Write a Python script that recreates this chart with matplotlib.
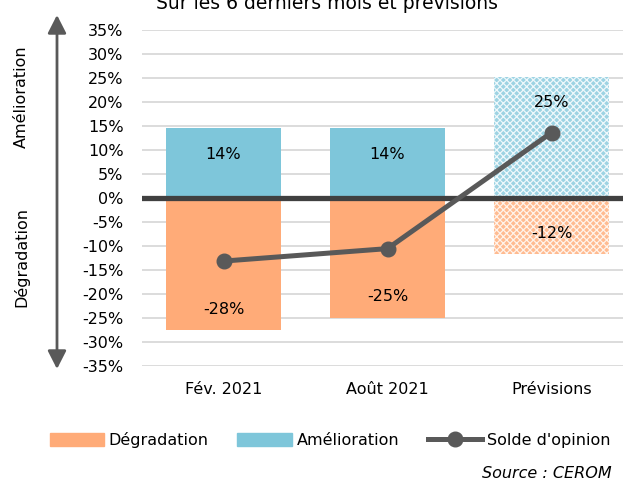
import matplotlib
matplotlib.use("Agg")
import matplotlib.pyplot as plt
from matplotlib.patches import Patch
from matplotlib.lines import Line2D

categories = ["Fév. 2021", "Août 2021", "Prévisions"]
amelioration = [14.6, 14.6, 25.3]
degradation = [-27.6, -25.0, -11.7]
solde = [-13.2, -10.6, 13.6]
amel_labels = ["14%", "14%", "25%"]
degr_labels = ["-28%", "-25%", "-12%"]
yticks = list(range(-35, 40, 5))

BLUE = "#7ec6da"
ORANGE = "#ffab78"
LINE = "#595959"

plt.rcParams['font.family'] = ['DejaVu Sans']
plt.rcParams['hatch.linewidth'] = 0.9

W, H = 623, 482
fig = plt.figure(figsize=(W / 100, H / 100), dpi=100)
left_px, right_px = 141.5, 623
top_px, bot_px = 30, 365.6
ax = fig.add_axes([left_px / W, 1 - bot_px / H, (right_px - left_px) / W, (bot_px - top_px) / H])

x = list(range(len(categories)))
bw = 0.70
for i in x:
    hatched = categories[i] == "Prévisions"
    if hatched:
        ax.bar(i, amelioration[i], width=bw, color="#9dd3e3", edgecolor="#eef8fb",
               hatch="xxxxx", linewidth=0, zorder=2)
        ax.bar(i, degradation[i], width=bw, color="#ffbb91", edgecolor="#fff3ea",
               hatch="xxxxx", linewidth=0, zorder=2)
    else:
        ax.bar(i, amelioration[i], width=bw, color=BLUE, linewidth=0, zorder=2)
        ax.bar(i, degradation[i], width=bw, color=ORANGE, linewidth=0, zorder=2)
    ax.annotate(amel_labels[i], (i, amelioration[i]), xytext=(0, -19), textcoords="offset points",
                ha="center", va="center", fontsize=11.5, color="black", zorder=5)
    ax.annotate(degr_labels[i], (i, degradation[i]), xytext=(0, 15), textcoords="offset points",
                ha="center", va="center", fontsize=11.5, color="black", zorder=5)

ax.axhline(0, color="#404040", lw=3.8, zorder=3)
ax.plot(x, solde, color=LINE, lw=3.6, marker="o", markersize=10.5, zorder=4)

ax.set_xlim(-0.5, (right_px - 223.5) / 164)
ax.set_ylim(-35, 35)
ax.set_yticks(yticks)
ax.set_yticklabels([f"{v}%" for v in yticks], fontsize=11.5)
ax.set_xticks(x)
ax.set_xticklabels(categories, fontsize=11.5)
ax.tick_params(axis="both", length=0)
ax.tick_params(axis="y", pad=13)
ax.tick_params(axis="x", pad=12)
ax.grid(axis="y", color="#d9d9d9", lw=1.3, zorder=0)
ax.set_axisbelow(True)
for s in ax.spines.values():
    s.set_visible(False)

# left arrow and labels
ax.annotate("", xy=(57, H - 15), xytext=(57, H - 369), xycoords="figure pixels",
            textcoords="figure pixels",
            arrowprops=dict(arrowstyle="<|-|>,head_length=0.55,head_width=0.28",
                            mutation_scale=20, lw=2, color=LINE, shrinkA=0, shrinkB=0))
fig.text(21 / W, 1 - 97 / H, "Amélioration", rotation=90, ha="center", va="center", fontsize=11.5)
fig.text(21 / W, 1 - 257 / H, "Dégradation", rotation=90, ha="center", va="center", fontsize=11.5)

# title (cropped at top in the reference)
fig.text(327 / W, 1 - 9 / H, "Sur les 6 derniers mois et prévisions", ha="center", va="baseline",
         fontsize=13.5)

handles = [Patch(color=ORANGE, label="Dégradation"),
           Patch(color=BLUE, label="Amélioration"),
           Line2D([0], [0], color=LINE, lw=3.6, marker="o", markersize=10.5, label="Solde d'opinion")]
fig.legend(handles=handles, loc="center", bbox_to_anchor=(330 / W, 1 - 440 / H), ncol=3,
           frameon=False, fontsize=11.5, handlelength=3.4, handleheight=0.8,
           handletextpad=0.3, columnspacing=1.8)

fig.text(612 / W, 1 - 473 / H, "Source : CEROM", ha="right", va="center", fontsize=11.5, style="italic")

fig.savefig("out.png", dpi=100)
